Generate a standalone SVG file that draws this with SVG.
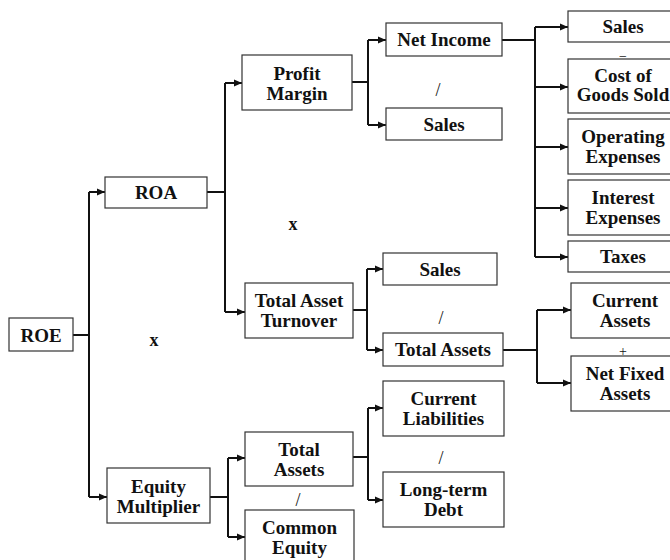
<svg xmlns="http://www.w3.org/2000/svg" width="670" height="560" viewBox="0 0 670 560">
<style>
.box{fill:#fff;stroke:#333;stroke-width:1.2}
.t{font-family:"Liberation Serif","Times New Roman",serif;font-weight:bold;font-size:19px;fill:#111;text-anchor:middle}
.op{font-family:"Liberation Serif","Times New Roman",serif;font-size:18px;fill:#111;text-anchor:middle}
.ops{font-family:"Liberation Serif","Times New Roman",serif;font-size:14px;fill:#111;text-anchor:middle}
.opb{font-family:"Liberation Serif","Times New Roman",serif;font-weight:bold;font-size:18px;fill:#111;text-anchor:middle}
.c{fill:none;stroke:#111;stroke-width:2}
.a{fill:none;stroke:#111;stroke-width:2;marker-end:url(#ah)}
</style>
<defs>
<marker id="ah" markerUnits="userSpaceOnUse" markerWidth="9" markerHeight="8" refX="8" refY="4" orient="auto">
<path d="M0,0.5 L8,4 L0,7.5 z" fill="#111"/>
</marker>
</defs>
<rect width="670" height="560" fill="#fff"/>
<g id="operators">
<text class="opb" x="293" y="230">x</text>
<text class="opb" x="154" y="346">x</text>
<text class="op" x="438" y="96">/</text>
<text class="op" x="441" y="324">/</text>
<text class="op" x="441" y="464">/</text>
<text class="op" x="298" y="506">/</text>
<text class="ops" x="623" y="356">+</text>
<text class="ops" x="623" y="61">−</text>
</g>
<g id="connectors">
<path class="c" d="M73,335 H89 M89,192 V497"/>
<path class="a" d="M89,192 H105"/>
<path class="a" d="M89,497 H107"/>
<path class="c" d="M207,192 H225 M225,83 V312"/>
<path class="a" d="M225,83 H242"/>
<path class="a" d="M225,312 H245"/>
<path class="c" d="M210,497 H228 M228,458 V537"/>
<path class="a" d="M228,458 H245"/>
<path class="a" d="M228,537 H245"/>
<path class="c" d="M352,82 H368 M368,40 V125"/>
<path class="a" d="M368,40 H386"/>
<path class="a" d="M368,125 H386"/>
<path class="c" d="M502,40 H535 M535,27 V257"/>
<path class="a" d="M535,27 H568"/>
<path class="a" d="M535,87 H568"/>
<path class="a" d="M535,147 H568"/>
<path class="a" d="M535,208 H568"/>
<path class="a" d="M535,257 H568"/>
<path class="c" d="M353,310 H367 M367,269 V350"/>
<path class="a" d="M367,269 H383"/>
<path class="a" d="M367,350 H383"/>
<path class="c" d="M503,350 H537 M537,310 V383"/>
<path class="a" d="M537,310 H571"/>
<path class="a" d="M537,383 H571"/>
<path class="c" d="M353,457 H368 M368,408 V500"/>
<path class="a" d="M368,408 H383"/>
<path class="a" d="M368,500 H383"/>
</g>
<g id="roe"><rect class="box" x="9" y="318" width="64" height="33"/><text class="t" x="41" y="342">ROE</text></g>
<g id="roa"><rect class="box" x="105" y="177" width="102" height="31"/><text class="t" x="156" y="199">ROA</text></g>
<g id="equity-multiplier"><rect class="box" x="107" y="468" width="103" height="55"/><text class="t" x="158.5" y="493">Equity</text><text class="t" x="158.5" y="513">Multiplier</text></g>
<g id="profit-margin"><rect class="box" x="242" y="55" width="110" height="55"/><text class="t" x="297" y="80">Profit</text><text class="t" x="297" y="100">Margin</text></g>
<g id="total-asset-turnover"><rect class="box" x="245" y="283" width="108" height="55"/><text class="t" x="299" y="307">Total Asset</text><text class="t" x="299" y="327">Turnover</text></g>
<g id="em-total-assets"><rect class="box" x="245" y="432" width="108" height="54"/><text class="t" x="299" y="456">Total</text><text class="t" x="299" y="476">Assets</text></g>
<g id="common-equity"><rect class="box" x="245" y="510" width="109" height="56"/><text class="t" x="299.5" y="534">Common</text><text class="t" x="299.5" y="554">Equity</text></g>
<g id="net-income"><rect class="box" x="386" y="23" width="116" height="33"/><text class="t" x="444" y="46">Net Income</text></g>
<g id="pm-sales"><rect class="box" x="386" y="108" width="116" height="32"/><text class="t" x="444" y="131">Sales</text></g>
<g id="tat-sales"><rect class="box" x="383" y="253" width="114" height="32"/><text class="t" x="440" y="276">Sales</text></g>
<g id="tat-total-assets"><rect class="box" x="383" y="333" width="120" height="33"/><text class="t" x="443" y="356">Total Assets</text></g>
<g id="current-liabilities"><rect class="box" x="383" y="381" width="121" height="55"/><text class="t" x="443.5" y="405">Current</text><text class="t" x="443.5" y="425">Liabilities</text></g>
<g id="long-term-debt"><rect class="box" x="383" y="472" width="121" height="55"/><text class="t" x="443.5" y="496">Long-term</text><text class="t" x="443.5" y="516">Debt</text></g>
<g id="sales"><rect class="box" x="568" y="11" width="110" height="31"/><text class="t" x="623" y="33">Sales</text></g>
<g id="cogs"><rect class="box" x="568" y="59" width="110" height="54"/><text class="t" x="623" y="82">Cost of</text><text class="t" x="623" y="101">Goods Sold</text></g>
<g id="operating-expenses"><rect class="box" x="568" y="119" width="110" height="55"/><text class="t" x="623" y="143">Operating</text><text class="t" x="623" y="163">Expenses</text></g>
<g id="interest-expenses"><rect class="box" x="568" y="180" width="110" height="55"/><text class="t" x="623" y="204">Interest</text><text class="t" x="623" y="224">Expenses</text></g>
<g id="taxes"><rect class="box" x="568" y="241" width="110" height="31"/><text class="t" x="623" y="263">Taxes</text></g>
<g id="current-assets"><rect class="box" x="571" y="283" width="108" height="55"/><text class="t" x="625" y="307">Current</text><text class="t" x="625" y="327">Assets</text></g>
<g id="net-fixed-assets"><rect class="box" x="571" y="356" width="108" height="55"/><text class="t" x="625" y="380">Net Fixed</text><text class="t" x="625" y="400">Assets</text></g>
</svg>
